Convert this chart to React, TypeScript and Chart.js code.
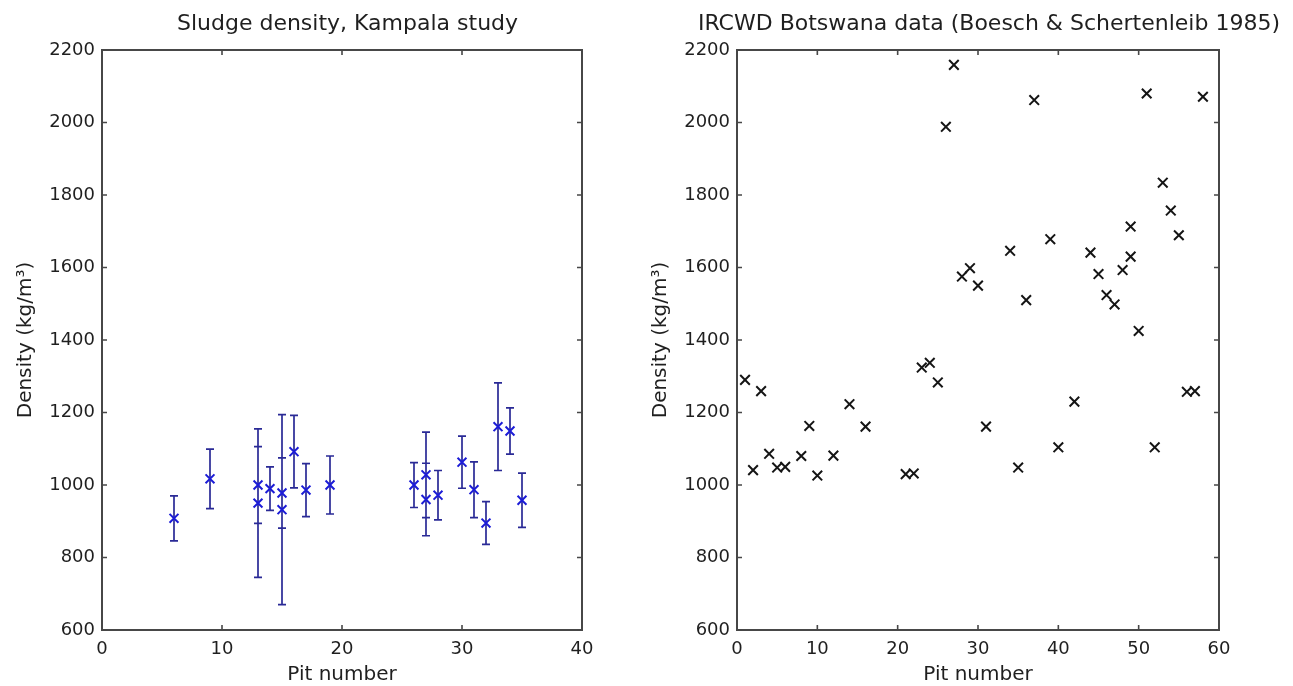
import React, { useEffect, useRef } from "react";
import { Chart, registerables } from "chart.js";

Chart.register(...registerables);

// ---- Data ----
const kampalaPit = [6, 9, 13, 13, 14, 15, 15, 16, 17, 19, 26, 27, 27, 28, 30, 31, 32, 33, 34, 35];
const kampalaDensity = [908, 1017, 1000, 950, 990, 978, 932, 1092, 986, 1000, 1000, 1028, 960, 972, 1063, 987, 895, 1161, 1149, 958];
const kampalaError = [62, 82, 106, 205, 60, 97, 262, 100, 73, 80, 62, 118, 100, 68, 72, 77, 59, 121, 64, 75];

const botswanaPit = [1, 2, 3, 4, 5, 6, 8, 9, 10, 12, 14, 16, 21, 22, 23, 24, 25, 26, 27, 28, 29, 30, 31, 34, 35, 36, 37, 39, 40, 42, 44, 45, 46, 47, 48, 49, 49, 50, 51, 52, 53, 54, 55, 56, 57, 58];
const botswanaDensity = [1290, 1041, 1259, 1086, 1048, 1050, 1080, 1163, 1026, 1081, 1223, 1161, 1030, 1032, 1324, 1337, 1283, 1988, 2159, 1575, 1598, 1550, 1161, 1646, 1048, 1510, 2062, 1678, 1104, 1230, 1641, 1582, 1524, 1498, 1593, 1713, 1630, 1425, 2080, 1104, 1834, 1757, 1689, 1257, 1259, 2071];

const densityTicks = [600, 800, 1000, 1200, 1400, 1600, 1800, 2000, 2200];
const kampalaPitTicks = [0, 10, 20, 30, 40];
const botswanaPitTicks = [0, 10, 20, 30, 40, 50, 60];

const kampalaTitle = "Sludge density, Kampala study";
const botswanaTitle = "IRCWD Botswana data (Boesch & Schertenleib 1985)";
const xAxisTitle = "Pit number";
const yAxisTitle = "Density (kg/m³)";

// ---- Styles ----
const FONT = "'DejaVu Sans', 'Liberation Sans', Arial, sans-serif";
const TEXT = "#1f1f1f";
const FRAME = "#474747";
const BLUE_MARK = "rgb(28,28,215)";
const BLUE_BAR = "rgb(42,42,150)";

const boxPlugin = {
  id: "matlabBox",
  afterDatasetsDraw(chart: any) {
    const { ctx, chartArea: a, scales } = chart;
    const x = scales.x;
    const y = scales.y;
    ctx.save();
    ctx.strokeStyle = FRAME;
    ctx.lineWidth = 2;
    ctx.strokeRect(a.left, a.top, a.right - a.left, a.bottom - a.top);
    const L = 5;
    ctx.lineWidth = 1.6;
    ctx.beginPath();
    x.ticks.forEach((t: any) => {
      const px = x.getPixelForValue(t.value);
      ctx.moveTo(px, a.bottom);
      ctx.lineTo(px, a.bottom - L);
      ctx.moveTo(px, a.top);
      ctx.lineTo(px, a.top + L);
    });
    y.ticks.forEach((t: any) => {
      const py = y.getPixelForValue(t.value);
      ctx.moveTo(a.left, py);
      ctx.lineTo(a.left + L, py);
      ctx.moveTo(a.right, py);
      ctx.lineTo(a.right - L, py);
    });
    ctx.stroke();
    ctx.restore();
  },
};

const errorBarPlugin = {
  id: "kampalaErrorBars",
  beforeDatasetsDraw(chart: any) {
    const { ctx, scales } = chart;
    const x = scales.x;
    const y = scales.y;
    ctx.save();
    ctx.strokeStyle = BLUE_BAR;
    ctx.lineWidth = 1.7;
    ctx.beginPath();
    kampalaPit.forEach((p, i) => {
      const px = x.getPixelForValue(p);
      const top = y.getPixelForValue(kampalaDensity[i] + kampalaError[i]);
      const bot = y.getPixelForValue(kampalaDensity[i] - kampalaError[i]);
      ctx.moveTo(px, top);
      ctx.lineTo(px, bot);
      ctx.moveTo(px - 4, top);
      ctx.lineTo(px + 4, top);
      ctx.moveTo(px - 4, bot);
      ctx.lineTo(px + 4, bot);
    });
    ctx.stroke();
    ctx.restore();
  },
};

function makeScales(xTicks: number[], yWidth: number, yTitlePad: number, rightWidth: number) {
  return {
    x: {
      type: "linear",
      position: "bottom",
      min: xTicks[0],
      max: xTicks[xTicks.length - 1],
      afterBuildTicks: (s: any) => {
        s.ticks = xTicks.map((v) => ({ value: v }));
      },
      afterFit: (s: any) => {
        s.height = 56;
      },
      grid: { display: false, drawTicks: false },
      border: { display: false },
      ticks: {
        padding: 9,
        autoSkip: false,
        maxRotation: 0,
        color: TEXT,
        font: { family: FONT, size: 18 },
        callback: (v: any) => String(v),
      },
      title: {
        display: true,
        text: xAxisTitle,
        color: TEXT,
        font: { family: FONT, size: 20, lineHeight: 1 },
        padding: { top: 0, bottom: 1 },
      },
    },
    y: {
      type: "linear",
      position: "left",
      min: densityTicks[0],
      max: densityTicks[densityTicks.length - 1],
      afterBuildTicks: (s: any) => {
        s.ticks = densityTicks.map((v) => ({ value: v }));
      },
      afterFit: (s: any) => {
        s.width = yWidth;
      },
      grid: { display: false, drawTicks: false },
      border: { display: false },
      ticks: {
        padding: 7,
        autoSkip: false,
        color: TEXT,
        font: { family: FONT, size: 18 },
        callback: (v: any) => String(v),
      },
      title: {
        display: true,
        text: yAxisTitle,
        color: TEXT,
        font: { family: FONT, size: 20, lineHeight: 1.2 },
        padding: { top: yTitlePad, bottom: 0 },
      },
    },
    yr: {
      type: "linear",
      position: "right",
      min: densityTicks[0],
      max: densityTicks[densityTicks.length - 1],
      grid: { display: false, drawTicks: false },
      border: { display: false },
      ticks: { display: false },
      title: { display: false },
      afterFit: (s: any) => {
        s.width = rightWidth;
      },
    },
  };
}

function makeTitle(text: string, align: string) {
  return {
    display: true,
    text,
    align,
    fullSize: true,
    color: TEXT,
    font: { family: FONT, size: 22, weight: "normal", lineHeight: 1.2 },
    padding: { top: 10.8, bottom: 12.8 },
  };
}

export default function App() {
  const leftRef = useRef<HTMLCanvasElement | null>(null);
  const rightRef = useRef<HTMLCanvasElement | null>(null);

  useEffect(() => {
    const left = new Chart(leftRef.current as HTMLCanvasElement, {
      type: "scatter",
      data: {
        datasets: [
          {
            label: "Kampala",
            data: kampalaPit.map((p, i) => ({ x: p, y: kampalaDensity[i] })),
            showLine: false,
            pointStyle: "crossRot",
            pointRadius: 6.3,
            pointBorderWidth: 2,
            pointBorderColor: BLUE_MARK,
            pointBackgroundColor: "rgba(0,0,0,0)",
          },
        ],
      },
      options: {
        responsive: false,
        maintainAspectRatio: false,
        animation: false,
        events: [],
        layout: { padding: 0 },
        plugins: {
          legend: { display: false },
          tooltip: { enabled: false },
          title: makeTitle(kampalaTitle, "center"),
        },
        scales: makeScales(kampalaPitTicks, 102, 14, 113),
      } as any,
      plugins: [errorBarPlugin, boxPlugin],
    });

    const right = new Chart(rightRef.current as HTMLCanvasElement, {
      type: "scatter",
      data: {
        datasets: [
          {
            label: "Botswana",
            data: botswanaPit.map((p, i) => ({ x: p, y: botswanaDensity[i] })),
            showLine: false,
            pointStyle: "crossRot",
            pointRadius: 6.8,
            pointBorderWidth: 2,
            pointBorderColor: "#151515",
            pointBackgroundColor: "rgba(0,0,0,0)",
          },
        ],
      },
      options: {
        responsive: false,
        maintainAspectRatio: false,
        animation: false,
        events: [],
        layout: { padding: 0 },
        plugins: {
          legend: { display: false },
          tooltip: { enabled: false },
          title: makeTitle(botswanaTitle, "end"),
        },
        scales: makeScales(botswanaPitTicks, 107, 19, 61),
      } as any,
      plugins: [boxPlugin],
    });

    return () => {
      left.destroy();
      right.destroy();
    };
  }, []);

  return (
    <div
      style={{
        position: "absolute",
        left: 0,
        top: 0,
        width: 1293,
        height: 686,
        overflow: "hidden",
        background: "#ffffff",
      }}
    >
      <canvas
        ref={leftRef}
        width={695}
        height={686}
        style={{ position: "absolute", left: 0, top: 0, width: 695, height: 686 }}
      />
      <canvas
        ref={rightRef}
        width={650}
        height={686}
        style={{ position: "absolute", left: 630, top: 0, width: 650, height: 686 }}
      />
    </div>
  );
}
